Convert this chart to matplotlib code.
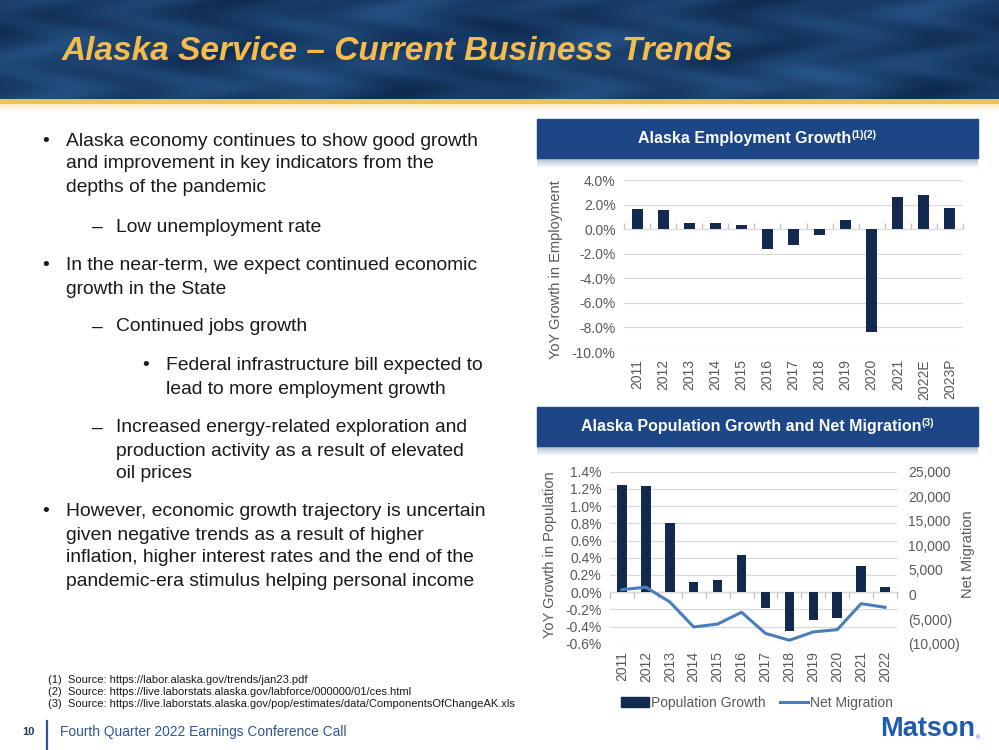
import numpy as np
import matplotlib.pyplot as plt
from matplotlib.patches import Rectangle, Patch
from matplotlib.lines import Line2D
from matplotlib.ticker import FuncFormatter

plt.rcParams['font.family'] = ['Liberation Sans', 'DejaVu Sans']

# ---- data ----
emp_years = ['2011', '2012', '2013', '2014', '2015', '2016', '2017', '2018',
             '2019', '2020', '2021', '2022E', '2023P']
emp_growth = [1.65, 1.57, 0.46, 0.54, 0.35, -1.65, -1.30, -0.49, 0.76,
              -8.40, 2.63, 2.74, 1.71]

pop_years = ['2011', '2012', '2013', '2014', '2015', '2016', '2017', '2018',
             '2019', '2020', '2021', '2022']
pop_growth = [1.25, 1.23, 0.80, 0.12, 0.14, 0.43, -0.19, -0.45, -0.32,
              -0.30, 0.30, 0.06]
net_migration = [1000, 1500, -1500, -6600, -6000, -3600, -7900, -9300,
                 -7600, -7150, -1850, -2600]

bullets = [
    (0, ['Alaska economy continues to show good growth',
         'and improvement in key indicators from the',
         'depths of the pandemic']),
    (1, ['Low unemployment rate']),
    (0, ['In the near-term, we expect continued economic',
         'growth in the State']),
    (1, ['Continued jobs growth']),
    (2, ['Federal infrastructure bill expected to',
         'lead to more employment growth']),
    (1, ['Increased energy-related exploration and',
         'production activity as a result of elevated',
         'oil prices']),
    (0, ['However, economic growth trajectory is uncertain',
         'given negative trends as a result of higher',
         'inflation, higher interest rates and the end of the',
         'pandemic-era stimulus helping personal income']),
]
footnotes = [
    '(1)  Source: https://labor.alaska.gov/trends/jan23.pdf',
    '(2)  Source: https://live.laborstats.alaska.gov/labforce/000000/01/ces.html',
    '(3)  Source: https://live.laborstats.alaska.gov/pop/estimates/data/ComponentsOfChangeAK.xls',
]

# ---- style ----
W, H = 999, 750
BAR = '#13294F'
LINE = '#4A7EBB'
HDR = '#1D4686'
GREY = '#595959'
GRID = '#D9D9D9'
TITLE_GOLD = '#F5BC4C'
FOOT_BLUE = '#2F5597'


def fx(x):
    return x / W


def fy(y):
    return 1 - y / H


fig = plt.figure(figsize=(W / 100, H / 100), dpi=100)

# ---- header band ----
band_h = 112
yy, xx = np.mgrid[0:band_h, 0:W].astype(float)
wave = (0.5 + 0.22 * np.sin(xx / 55 + yy / 14) * np.sin(xx / 170 - yy / 22)
        + 0.12 * np.sin(xx / 21 + 2 * np.sin(yy / 8)))
wave += 0.18 * np.exp(-((yy - 75) / 18) ** 2) * (0.5 + 0.5 * np.sin(xx / 90))
wave = np.clip(wave, 0, 1)
dark = np.array([10, 33, 68]) / 255
light = np.array([40, 88, 140]) / 255
img = dark + wave[..., None] * (light - dark)
gold = np.array([239, 193, 90]) / 255
img[99:104] = gold
pale = np.array([251, 236, 196]) / 255
for i, r in enumerate(range(104, band_h)):
    t = i / (band_h - 105)
    img[r] = pale * (1 - t) + np.ones(3) * t
bax = fig.add_axes([0, fy(band_h), 1, band_h / H])
bax.imshow(img, aspect='auto', interpolation='bilinear')
bax.axis('off')

fig.text(fx(62), fy(51), 'Alaska Service \u2013 Current Business Trends',
         family=['Liberation Sans Narrow', 'Liberation Sans'], weight='bold',
         style='italic', fontsize=24, color=TITLE_GOLD, va='center', ha='left')

# ---- bullet text ----
first_y = [141, 227, 266, 327, 366, 428, 512]
indent = {0: (42, 66, '\u2022'), 1: (92, 116, '\u2013'), 2: (142, 166, '\u2022')}
for (level, lines), y0 in zip(bullets, first_y):
    mx, tx, mark = indent[level]
    fig.text(fx(mx), fy(y0), mark, fontsize=13.9, color='#1A1A1A', va='center')
    for k, line in enumerate(lines):
        fig.text(fx(tx), fy(y0 + 23 * k), line, fontsize=13.9, color='#1A1A1A',
                 va='center')

for k, note in enumerate(footnotes):
    fig.text(fx(48), fy(680 + 12 * k), note, fontsize=8, color='#1A1A1A',
             va='center')

# ---- footer ----
fig.text(fx(28), fy(732), '10', fontsize=8, weight='bold', color='#1F3864',
         ha='center', va='center')
fig.add_artist(Line2D([fx(47), fx(47)], [fy(721), fy(750)], color=FOOT_BLUE, lw=1.6))
fig.text(fx(60), fy(732), 'Fourth Quarter 2022 Earnings Conference Call',
         fontsize=9.9, color=FOOT_BLUE, va='center')
fig.text(fx(975), fy(729), 'Matson', weight='bold', fontsize=19.5,
         color='#1F5BB0', ha='right', va='center')
fig.text(fx(976), fy(738), '\u00ae', fontsize=4.5, color='#1F5BB0',
         ha='left', va='center')


# ---- chart headers ----
def header(top, bottom, main, sup):
    fig.add_artist(Rectangle((fx(537), fy(bottom)), fx(978) - fx(537), (bottom - top) / H,
                             transform=fig.transFigure, color=HDR, zorder=1))
    sh = fig.add_axes([fx(537), fy(bottom + 10), fx(978) - fx(537), 10 / H])
    grad = np.linspace(0, 1, 20)[:, None, None]
    top_c = np.array([170, 184, 205]) / 255
    sh.imshow(top_c * (1 - grad) + grad, aspect='auto')
    sh.axis('off')
    cy = fy((top + bottom) / 2)
    t = fig.text(0, cy, main, fontsize=11.5, weight='bold', color='white',
                 va='center', zorder=2)
    s = fig.text(0, cy + 4 / H, sup, fontsize=7.5, weight='bold', color='white',
                 va='center', zorder=2)
    r = fig.canvas.get_renderer()
    w1 = t.get_window_extent(r).width
    w2 = s.get_window_extent(r).width
    left = (537 + 978) / 2 - (w1 + w2) / 2
    t.set_x(fx(left))
    s.set_x(fx(left + w1))


header(119, 158, 'Alaska Employment Growth', '(1)(2)')
header(407, 446, 'Alaska Population Growth and Net Migration', '(3)')


def style_axis(ax, n, y0, y1):
    for sp in ax.spines.values():
        sp.set_visible(False)
    ax.grid(axis='y', color=GRID, lw=0.9)
    ax.set_axisbelow(True)
    ax.set_xlim(-0.5, n - 0.5)
    ax.set_ylim(y0, y1)
    ax.tick_params(axis='y', length=0, labelsize=10, labelcolor=GREY, pad=6)
    ax.tick_params(axis='x', length=0, labelsize=10, labelcolor=GREY, pad=5,
                   labelrotation=90)
    # category axis at zero with tick marks between categories
    sec = ax.secondary_xaxis((0 - y0) / (y1 - y0))
    sec.set_xticks(np.arange(n + 1) - 0.5)
    sec.set_xticklabels([])
    sec.tick_params(axis='x', direction='out', length=4, color='#BFBFBF', width=0.9)
    sec.spines['bottom'].set_color('#BFBFBF')
    sec.spines['bottom'].set_linewidth(0.9)
    for k in ('top', 'left', 'right'):
        sec.spines[k].set_visible(False)


pct = FuncFormatter(lambda v, p: f'{round(v, 1) + 0.0:.1f}%')

# ---- employment chart ----
ax1 = fig.add_axes([fx(624), fy(352), (963 - 624) / W, (352 - 180) / H])
x1 = np.arange(len(emp_years))
ax1.bar(x1, emp_growth, width=0.42, color=BAR, zorder=2)
style_axis(ax1, len(emp_years), -10, 4)
ax1.set_yticks(np.arange(-10, 4.1, 2))
ax1.yaxis.set_major_formatter(pct)
ax1.set_xticks(x1)
ax1.set_xticklabels(emp_years)
ax1.set_ylabel('YoY Growth in Employment', fontsize=10.5, color=GREY)
ax1.yaxis.set_label_coords((563 - 624) / 339, 0.48)

# ---- population chart ----
ax2 = fig.add_axes([fx(610), fy(643.7), 287 / W, 172 / H])
x2 = np.arange(len(pop_years))
ax2.bar(x2, pop_growth, width=0.40, color=BAR, zorder=2)
style_axis(ax2, len(pop_years), -0.6, 1.4)
ax2.set_yticks(np.arange(-0.6, 1.41, 0.2))
ax2.yaxis.set_major_formatter(pct)
ax2.set_xticks(x2)
ax2.set_xticklabels(pop_years)
ax2.set_ylabel('YoY Growth in Population', fontsize=10.5, color=GREY)
ax2.yaxis.set_label_coords((557 - 610) / 287, 0.52)

ax3 = ax2.twinx()
ax3.plot(x2, net_migration, color=LINE, lw=2.2, zorder=3)
ax3.set_ylim(-10000, 25000)
ax3.set_yticks(np.arange(-10000, 25001, 5000))
ax3.yaxis.set_major_formatter(FuncFormatter(
    lambda v, p: '0' if v == 0 else (f'({-v:,.0f})' if v < 0 else f'{v:,.0f}')))
for sp in ax3.spines.values():
    sp.set_visible(False)
ax3.tick_params(axis='y', length=0, labelsize=10, labelcolor=GREY, pad=8)
ax3.set_ylabel('Net Migration', fontsize=10.5, color=GREY, rotation=90)
ax3.yaxis.set_label_coords((961 - 610) / 287, 0.52)

handles = [Patch(color=BAR), Line2D([0], [0], color=LINE, lw=2.2)]
fig.legend(handles, ['Population Growth', 'Net Migration'], ncol=2, loc='center',
           bbox_to_anchor=(fx(757), fy(703)), frameon=False, fontsize=10,
           labelcolor=GREY, handlelength=2.0, handletextpad=0.2, columnspacing=1.0)

fig.savefig('out.png', dpi=100)
